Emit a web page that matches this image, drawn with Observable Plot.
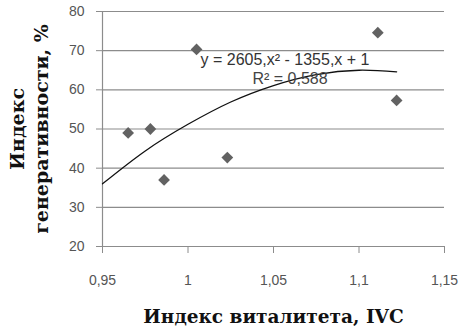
<!DOCTYPE html>
<html><head><meta charset="utf-8">
<script src="https://cdn.jsdelivr.net/npm/d3@7"></script>
<script src="https://cdn.jsdelivr.net/npm/@observablehq/plot@0.6"></script>
<style>body{margin:0;background:#fff}</style>
</head><body><div id="chart"></div>
<script>
const vitality = [0.965, 0.978, 0.986, 1.005, 1.023, 1.111, 1.122];
const generativity = [49, 50, 37, 70.3, 42.7, 74.6, 57.3];
// polynomial trend line
const trendX = [0.95, 0.975, 1.0, 1.025, 1.05, 1.075, 1.1, 1.122];
const trendY = [36.0, 44.4, 51.2, 56.9, 61.1, 63.9, 65.0, 64.6];
const xTicks = [0.95, 1, 1.05, 1.1, 1.15];
const yTicks = [20, 30, 40, 50, 60, 70, 80];
const equationText = "y = 2605,x² - 1355,x + 1";
const r2Text = "R² = 0,588";
const xLabel = "Индекс виталитета, IVC";
const yLabel1 = "Индекс";
const yLabel2 = "генеративности, %";

const points = vitality.map((x, i) => ({x, y: generativity[i]}));
const trend = trendX.map((x, i) => ({x, y: trendY[i]}));

const fmt = d => String(d).replace(".", ",");
const tickFont = "Liberation Sans, Arial, sans-serif";
const labelFont = "DejaVu Serif, serif";

const plot = Plot.plot({
  width: 473, height: 330,
  marginLeft: 102, marginRight: 29, marginTop: 11, marginBottom: 84,
  style: {fontFamily: tickFont, fontSize: "14px", background: "#fff"},
  x: {domain: [0.95, 1.15]},
  y: {domain: [20, 80]},
  marks: [
    Plot.gridY(yTicks, {stroke: "#8c8c8c", strokeOpacity: 1, strokeWidth: 1.2}),
    Plot.ruleX([0.95], {stroke: "#8c8c8c", strokeWidth: 1.2}),
    Plot.ruleY([20], {stroke: "#8c8c8c", strokeWidth: 1.2}),
    Plot.axisY({ticks: yTicks, tickSize: 6, tickPadding: 12, label: null, stroke: "#8c8c8c", color: "#555", fontSize: 14}),
    Plot.axisX({ticks: xTicks, tickFormat: fmt, tickSize: 7, tickPadding: 22, label: null, stroke: "#8c8c8c", color: "#555", fontSize: 14}),
    Plot.line(trend, {x: "x", y: "y", stroke: "#111", strokeWidth: 1.3, curve: "natural"}),
    Plot.dot(points, {x: "x", y: "y", symbol: "diamond2", r: 5.3, fill: "#626262", stroke: "none"}),
    Plot.text([equationText], {frameAnchor: "top-left", dx: 98, dy: 42, textAnchor: "start", fontSize: 16, fill: "#333"}),
    Plot.text([r2Text], {frameAnchor: "top-left", dx: 150, dy: 61, textAnchor: "start", fontSize: 16, fill: "#444"}),
    Plot.text([xLabel], {frameAnchor: "bottom", dy: 76, fontFamily: labelFont, fontWeight: "bold", fontSize: 18.5, fill: "#111"}),
    Plot.text([yLabel1], {frameAnchor: "left", dx: -85, dy: 0, rotate: -90, textAnchor: "middle", fontFamily: labelFont, fontWeight: "bold", fontSize: 19, fill: "#111"}),
    Plot.text([yLabel2], {frameAnchor: "left", dx: -61, dy: 0, rotate: -90, textAnchor: "middle", fontFamily: labelFont, fontWeight: "bold", fontSize: 19, fill: "#111"})
  ]
});
document.getElementById("chart").appendChild(plot);
</script></body></html>
